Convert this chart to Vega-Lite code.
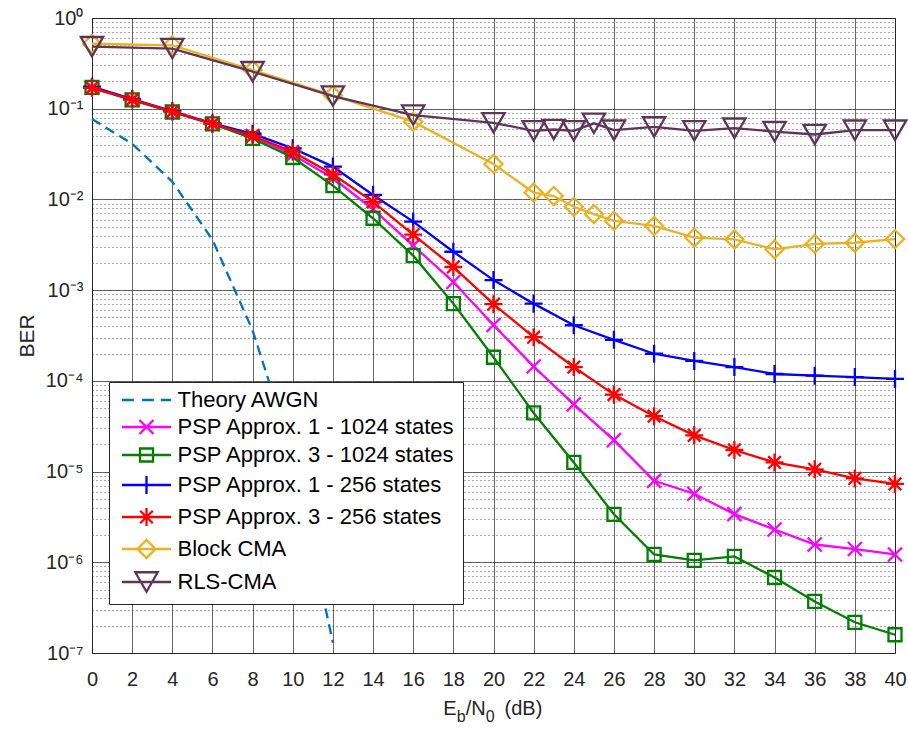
{
  "$schema": "https://vega.github.io/schema/vega-lite/v6.json",
  "width": 803,
  "height": 635,
  "autosize": {"type": "none"},
  "padding": {"left": 92, "top": 18, "right": 13, "bottom": 76},
  "background": "white",
  "config": {
    "view": {"stroke": "#262626", "strokeWidth": 1},
    "axis": {"ticks": false, "domain": false}
  },
  "data": {"values": [
    {"series": "Theory AWGN", "snr": 0, "ber": 0.077},
    {"series": "Theory AWGN", "snr": 2, "ber": 0.041},
    {"series": "Theory AWGN", "snr": 4, "ber": 0.0157},
    {"series": "Theory AWGN", "snr": 6, "ber": 0.0036},
    {"series": "Theory AWGN", "snr": 8, "ber": 0.00036},
    {"series": "Theory AWGN", "snr": 10, "ber": 1.5e-5},
    {"series": "Theory AWGN", "snr": 12, "ber": 1.3e-7},
    {"series": "PSP Approx. 1 - 1024 states", "snr": 0, "ber": 0.170},
    {"series": "PSP Approx. 1 - 1024 states", "snr": 2, "ber": 0.125},
    {"series": "PSP Approx. 1 - 1024 states", "snr": 4, "ber": 0.092},
    {"series": "PSP Approx. 1 - 1024 states", "snr": 6, "ber": 0.068},
    {"series": "PSP Approx. 1 - 1024 states", "snr": 8, "ber": 0.050},
    {"series": "PSP Approx. 1 - 1024 states", "snr": 10, "ber": 0.031},
    {"series": "PSP Approx. 1 - 1024 states", "snr": 12, "ber": 0.0172},
    {"series": "PSP Approx. 1 - 1024 states", "snr": 14, "ber": 0.0078},
    {"series": "PSP Approx. 1 - 1024 states", "snr": 16, "ber": 0.0031},
    {"series": "PSP Approx. 1 - 1024 states", "snr": 18, "ber": 0.00123},
    {"series": "PSP Approx. 1 - 1024 states", "snr": 20, "ber": 0.000413},
    {"series": "PSP Approx. 1 - 1024 states", "snr": 22, "ber": 0.000144},
    {"series": "PSP Approx. 1 - 1024 states", "snr": 24, "ber": 5.5e-5},
    {"series": "PSP Approx. 1 - 1024 states", "snr": 26, "ber": 2.22e-5},
    {"series": "PSP Approx. 1 - 1024 states", "snr": 28, "ber": 7.9e-6},
    {"series": "PSP Approx. 1 - 1024 states", "snr": 30, "ber": 5.7e-6},
    {"series": "PSP Approx. 1 - 1024 states", "snr": 32, "ber": 3.4e-6},
    {"series": "PSP Approx. 1 - 1024 states", "snr": 34, "ber": 2.3e-6},
    {"series": "PSP Approx. 1 - 1024 states", "snr": 36, "ber": 1.57e-6},
    {"series": "PSP Approx. 1 - 1024 states", "snr": 38, "ber": 1.40e-6},
    {"series": "PSP Approx. 1 - 1024 states", "snr": 40, "ber": 1.22e-6},
    {"series": "PSP Approx. 3 - 1024 states", "snr": 0, "ber": 0.172},
    {"series": "PSP Approx. 3 - 1024 states", "snr": 2, "ber": 0.125},
    {"series": "PSP Approx. 3 - 1024 states", "snr": 4, "ber": 0.092},
    {"series": "PSP Approx. 3 - 1024 states", "snr": 6, "ber": 0.068},
    {"series": "PSP Approx. 3 - 1024 states", "snr": 8, "ber": 0.047},
    {"series": "PSP Approx. 3 - 1024 states", "snr": 10, "ber": 0.029},
    {"series": "PSP Approx. 3 - 1024 states", "snr": 12, "ber": 0.0142},
    {"series": "PSP Approx. 3 - 1024 states", "snr": 14, "ber": 0.0062},
    {"series": "PSP Approx. 3 - 1024 states", "snr": 16, "ber": 0.0024},
    {"series": "PSP Approx. 3 - 1024 states", "snr": 18, "ber": 0.00071},
    {"series": "PSP Approx. 3 - 1024 states", "snr": 20, "ber": 0.000182},
    {"series": "PSP Approx. 3 - 1024 states", "snr": 22, "ber": 4.43e-5},
    {"series": "PSP Approx. 3 - 1024 states", "snr": 24, "ber": 1.26e-5},
    {"series": "PSP Approx. 3 - 1024 states", "snr": 26, "ber": 3.38e-6},
    {"series": "PSP Approx. 3 - 1024 states", "snr": 28, "ber": 1.22e-6},
    {"series": "PSP Approx. 3 - 1024 states", "snr": 30, "ber": 1.05e-6},
    {"series": "PSP Approx. 3 - 1024 states", "snr": 32, "ber": 1.16e-6},
    {"series": "PSP Approx. 3 - 1024 states", "snr": 34, "ber": 6.8e-7},
    {"series": "PSP Approx. 3 - 1024 states", "snr": 36, "ber": 3.7e-7},
    {"series": "PSP Approx. 3 - 1024 states", "snr": 38, "ber": 2.18e-7},
    {"series": "PSP Approx. 3 - 1024 states", "snr": 40, "ber": 1.59e-7},
    {"series": "PSP Approx. 1 - 256 states", "snr": 0, "ber": 0.175},
    {"series": "PSP Approx. 1 - 256 states", "snr": 2, "ber": 0.128},
    {"series": "PSP Approx. 1 - 256 states", "snr": 4, "ber": 0.094},
    {"series": "PSP Approx. 1 - 256 states", "snr": 6, "ber": 0.069},
    {"series": "PSP Approx. 1 - 256 states", "snr": 8, "ber": 0.053},
    {"series": "PSP Approx. 1 - 256 states", "snr": 10, "ber": 0.0366},
    {"series": "PSP Approx. 1 - 256 states", "snr": 12, "ber": 0.0230},
    {"series": "PSP Approx. 1 - 256 states", "snr": 14, "ber": 0.0112},
    {"series": "PSP Approx. 1 - 256 states", "snr": 16, "ber": 0.0057},
    {"series": "PSP Approx. 1 - 256 states", "snr": 18, "ber": 0.00265},
    {"series": "PSP Approx. 1 - 256 states", "snr": 20, "ber": 0.00129},
    {"series": "PSP Approx. 1 - 256 states", "snr": 22, "ber": 0.00071},
    {"series": "PSP Approx. 1 - 256 states", "snr": 24, "ber": 0.00041},
    {"series": "PSP Approx. 1 - 256 states", "snr": 26, "ber": 0.000283},
    {"series": "PSP Approx. 1 - 256 states", "snr": 28, "ber": 0.000199},
    {"series": "PSP Approx. 1 - 256 states", "snr": 30, "ber": 0.000166},
    {"series": "PSP Approx. 1 - 256 states", "snr": 32, "ber": 0.000142},
    {"series": "PSP Approx. 1 - 256 states", "snr": 34, "ber": 0.000119},
    {"series": "PSP Approx. 1 - 256 states", "snr": 36, "ber": 0.000114},
    {"series": "PSP Approx. 1 - 256 states", "snr": 38, "ber": 0.000110},
    {"series": "PSP Approx. 1 - 256 states", "snr": 40, "ber": 0.000105},
    {"series": "PSP Approx. 3 - 256 states", "snr": 0, "ber": 0.170},
    {"series": "PSP Approx. 3 - 256 states", "snr": 2, "ber": 0.126},
    {"series": "PSP Approx. 3 - 256 states", "snr": 4, "ber": 0.093},
    {"series": "PSP Approx. 3 - 256 states", "snr": 6, "ber": 0.068},
    {"series": "PSP Approx. 3 - 256 states", "snr": 8, "ber": 0.050},
    {"series": "PSP Approx. 3 - 256 states", "snr": 10, "ber": 0.0336},
    {"series": "PSP Approx. 3 - 256 states", "snr": 12, "ber": 0.0189},
    {"series": "PSP Approx. 3 - 256 states", "snr": 14, "ber": 0.0094},
    {"series": "PSP Approx. 3 - 256 states", "snr": 16, "ber": 0.0041},
    {"series": "PSP Approx. 3 - 256 states", "snr": 18, "ber": 0.0018},
    {"series": "PSP Approx. 3 - 256 states", "snr": 20, "ber": 0.00070},
    {"series": "PSP Approx. 3 - 256 states", "snr": 22, "ber": 0.000303},
    {"series": "PSP Approx. 3 - 256 states", "snr": 24, "ber": 0.000142},
    {"series": "PSP Approx. 3 - 256 states", "snr": 26, "ber": 7.05e-5},
    {"series": "PSP Approx. 3 - 256 states", "snr": 28, "ber": 4.08e-5},
    {"series": "PSP Approx. 3 - 256 states", "snr": 30, "ber": 2.51e-5},
    {"series": "PSP Approx. 3 - 256 states", "snr": 32, "ber": 1.73e-5},
    {"series": "PSP Approx. 3 - 256 states", "snr": 34, "ber": 1.26e-5},
    {"series": "PSP Approx. 3 - 256 states", "snr": 36, "ber": 1.06e-5},
    {"series": "PSP Approx. 3 - 256 states", "snr": 38, "ber": 8.4e-6},
    {"series": "PSP Approx. 3 - 256 states", "snr": 40, "ber": 7.3e-6},
    {"series": "Block CMA", "snr": 0, "ber": 0.52},
    {"series": "Block CMA", "snr": 4, "ber": 0.50},
    {"series": "Block CMA", "snr": 8, "ber": 0.267},
    {"series": "Block CMA", "snr": 12, "ber": 0.140},
    {"series": "Block CMA", "snr": 16, "ber": 0.072},
    {"series": "Block CMA", "snr": 20, "ber": 0.0246},
    {"series": "Block CMA", "snr": 22, "ber": 0.0119},
    {"series": "Block CMA", "snr": 23, "ber": 0.0109},
    {"series": "Block CMA", "snr": 24, "ber": 0.0083},
    {"series": "Block CMA", "snr": 25, "ber": 0.0069},
    {"series": "Block CMA", "snr": 26, "ber": 0.0058},
    {"series": "Block CMA", "snr": 28, "ber": 0.0051},
    {"series": "Block CMA", "snr": 30, "ber": 0.0038},
    {"series": "Block CMA", "snr": 32, "ber": 0.00363},
    {"series": "Block CMA", "snr": 34, "ber": 0.00282},
    {"series": "Block CMA", "snr": 36, "ber": 0.00323},
    {"series": "Block CMA", "snr": 38, "ber": 0.00333},
    {"series": "Block CMA", "snr": 40, "ber": 0.00366},
    {"series": "RLS-CMA", "snr": 0, "ber": 0.483},
    {"series": "RLS-CMA", "snr": 4, "ber": 0.46},
    {"series": "RLS-CMA", "snr": 8, "ber": 0.256},
    {"series": "RLS-CMA", "snr": 12, "ber": 0.138},
    {"series": "RLS-CMA", "snr": 16, "ber": 0.085},
    {"series": "RLS-CMA", "snr": 20, "ber": 0.070},
    {"series": "RLS-CMA", "snr": 22, "ber": 0.057},
    {"series": "RLS-CMA", "snr": 23, "ber": 0.059},
    {"series": "RLS-CMA", "snr": 24, "ber": 0.057},
    {"series": "RLS-CMA", "snr": 25, "ber": 0.069},
    {"series": "RLS-CMA", "snr": 26, "ber": 0.058},
    {"series": "RLS-CMA", "snr": 28, "ber": 0.063},
    {"series": "RLS-CMA", "snr": 30, "ber": 0.057},
    {"series": "RLS-CMA", "snr": 32, "ber": 0.061},
    {"series": "RLS-CMA", "snr": 34, "ber": 0.056},
    {"series": "RLS-CMA", "snr": 36, "ber": 0.052},
    {"series": "RLS-CMA", "snr": 38, "ber": 0.058},
    {"series": "RLS-CMA", "snr": 40, "ber": 0.058}
  ]},
  "encoding": {
    "x": {
      "field": "snr", "type": "quantitative",
      "scale": {"domain": [0, 40], "nice": false, "zero": false},
      "axis": {
        "values": [0, 2, 4, 6, 8, 10, 12, 14, 16, 18, 20, 22, 24, 26, 28, 30, 32, 34, 36, 38, 40],
        "title": null,
        "grid": true, "gridColor": "#262626", "gridOpacity": 0.7, "gridWidth": 1,
        "labelFont": "Liberation Sans", "labelFontSize": 20, "labelColor": "#262626",
        "labelPadding": 16, "labelFlush": false, "labelOverlap": false
      }
    },
    "y": {
      "field": "ber", "type": "quantitative",
      "scale": {"type": "log", "domain": [1e-7, 1], "nice": false},
      "axis": {
        "values": [1e-7, 2e-7, 3e-7, 4e-7, 5e-7, 6e-7, 7e-7, 8e-7, 9e-7,
                   1e-6, 2e-6, 3e-6, 4e-6, 5e-6, 6e-6, 7e-6, 8e-6, 9e-6,
                   1e-5, 2e-5, 3e-5, 4e-5, 5e-5, 6e-5, 7e-5, 8e-5, 9e-5,
                   1e-4, 2e-4, 3e-4, 4e-4, 5e-4, 6e-4, 7e-4, 8e-4, 9e-4,
                   1e-3, 2e-3, 3e-3, 4e-3, 5e-3, 6e-3, 7e-3, 8e-3, 9e-3,
                   1e-2, 2e-2, 3e-2, 4e-2, 5e-2, 6e-2, 7e-2, 8e-2, 9e-2,
                   1e-1, 2e-1, 3e-1, 4e-1, 5e-1, 6e-1, 7e-1, 8e-1, 9e-1, 1],
        "labelExpr": "abs(log(datum.value)/LN10 - round(log(datum.value)/LN10)) < 1e-6 ? (round(log(datum.value)/LN10) == 0 ? '10⁰' : '10⁻' + ['⁰','¹','²','³','⁴','⁵','⁶','⁷'][-round(log(datum.value)/LN10)]) : ''",
        "labelOverlap": false, "labelBound": false, "labelFlush": false,
        "labelFont": "Liberation Sans", "labelFontSize": 20, "labelColor": "#262626", "labelPadding": 9,
        "grid": true, "gridColor": "#262626", "gridWidth": 1, "gridOpacity": 0.75,
        "gridDash": {"condition": {"test": "abs(log(datum.value)/LN10 - round(log(datum.value)/LN10)) < 1e-6", "value": [10, 0]}, "value": [1, 3]},
        "title": "BER", "titleFont": "Liberation Sans", "titleFontSize": 21, "titleFontWeight": "normal",
        "titleColor": "#262626", "titlePadding": 8
      }
    }
  },
  "layer": [
    {
      "mark": {"type": "point", "filled": false, "opacity": 0},
      "encoding": {
        "color": {"field": "series", "type": "nominal",
          "scale": {"domain": ["Theory AWGN", "PSP Approx. 1 - 1024 states", "PSP Approx. 3 - 1024 states", "PSP Approx. 1 - 256 states", "PSP Approx. 3 - 256 states", "Block CMA", "RLS-CMA"],
                    "range": ["#0072BD", "#FF00FF", "#008000", "#0000FF", "#FF0000", "#EDB120", "#5E3559"]},
          "legend": {"orient": "none", "legendX": 17, "legendY": 364, "title": null,
            "labelFont": "Liberation Sans", "labelFontSize": 22, "labelColor": "#000000", "labelLimit": 500,
            "symbolSize": 196, "symbolStrokeWidth": 2.3, "symbolOpacity": 1, "symbolOffset": 19.5, "labelOffset": 20,
            "padding": 7, "rowPadding": 4, "strokeColor": "#262626", "fillColor": "#ffffff", "cornerRadius": 0}},
        "shape": {"field": "series", "type": "nominal",
          "scale": {"domain": ["Theory AWGN", "PSP Approx. 1 - 1024 states", "PSP Approx. 3 - 1024 states", "PSP Approx. 1 - 256 states", "PSP Approx. 3 - 256 states", "Block CMA", "RLS-CMA"],
                    "range": ["M-3.5,0L-1.8,0M-0.65,0L1.05,0M2.05,0L3.5,0",
                              "M-3.5,0L3.5,0M-1,-1L1,1M-1,1L1,-1",
                              "M-3.5,0L3.5,0M-0.93,-0.93L0.93,-0.93L0.93,0.93L-0.93,0.93Z",
                              "M-3.5,0L3.5,0M0,-1.29L0,1.29",
                              "M-3.5,0L3.5,0M0,-1.29L0,1.29M-0.9,-0.9L0.9,0.9M-0.9,0.9L0.9,-0.9",
                              "M-3.5,0L3.5,0M-1.29,0L0,-1.29L1.29,0L0,1.29Z",
                              "M-3.5,0L3.5,0M-1.6,-1.39L1.6,-1.39L0,1.39Z"]},
          "legend": {"orient": "none", "legendX": 17, "legendY": 364, "title": null,
            "labelFont": "Liberation Sans", "labelFontSize": 22, "labelColor": "#000000", "labelLimit": 500,
            "symbolSize": 196, "symbolStrokeWidth": 2.3, "symbolOpacity": 1, "symbolOffset": 19.5, "labelOffset": 20,
            "padding": 7, "rowPadding": 4, "strokeColor": "#262626", "fillColor": "#ffffff", "cornerRadius": 0}}
      }
    },
    {
      "transform": [{"filter": {"field": "series", "equal": "Theory AWGN"}}],
      "mark": {"type": "line", "strokeWidth": 2.3, "strokeDash": [10, 6]},
      "encoding": {"color": {"field": "series", "type": "nominal"}}
    },
    {
      "transform": [{"filter": {"field": "series", "equal": "PSP Approx. 1 - 1024 states"}}],
      "mark": {"type": "line", "strokeWidth": 2.3},
      "encoding": {"color": {"field": "series", "type": "nominal"}}
    },
    {
      "transform": [{"filter": {"field": "series", "equal": "PSP Approx. 1 - 1024 states"}}],
      "mark": {"type": "point", "shape": "M-1,-1L1,1M-1,1L1,-1", "filled": false, "size": 196, "strokeWidth": 2.3, "opacity": 1},
      "encoding": {"color": {"field": "series", "type": "nominal"}}
    },
    {
      "transform": [{"filter": {"field": "series", "equal": "PSP Approx. 3 - 1024 states"}}],
      "mark": {"type": "line", "strokeWidth": 2.3},
      "encoding": {"color": {"field": "series", "type": "nominal"}}
    },
    {
      "transform": [{"filter": {"field": "series", "equal": "PSP Approx. 3 - 1024 states"}}],
      "mark": {"type": "point", "shape": "square", "filled": false, "size": 169, "strokeWidth": 2.3, "opacity": 1},
      "encoding": {"color": {"field": "series", "type": "nominal"}}
    },
    {
      "transform": [{"filter": {"field": "series", "equal": "PSP Approx. 1 - 256 states"}}],
      "mark": {"type": "line", "strokeWidth": 2.3},
      "encoding": {"color": {"field": "series", "type": "nominal"}}
    },
    {
      "transform": [{"filter": {"field": "series", "equal": "PSP Approx. 1 - 256 states"}}],
      "mark": {"type": "point", "shape": "M-1,0L1,0M0,-1L0,1", "filled": false, "size": 324, "strokeWidth": 2.3, "opacity": 1},
      "encoding": {"color": {"field": "series", "type": "nominal"}}
    },
    {
      "transform": [{"filter": {"field": "series", "equal": "PSP Approx. 3 - 256 states"}}],
      "mark": {"type": "line", "strokeWidth": 2.3},
      "encoding": {"color": {"field": "series", "type": "nominal"}}
    },
    {
      "transform": [{"filter": {"field": "series", "equal": "PSP Approx. 3 - 256 states"}}],
      "mark": {"type": "point", "shape": "M-1,0L1,0M0,-1L0,1M-0.7,-0.7L0.7,0.7M-0.7,0.7L0.7,-0.7", "filled": false, "size": 324, "strokeWidth": 2.3, "opacity": 1},
      "encoding": {"color": {"field": "series", "type": "nominal"}}
    },
    {
      "transform": [{"filter": {"field": "series", "equal": "Block CMA"}}],
      "mark": {"type": "line", "strokeWidth": 2.3},
      "encoding": {"color": {"field": "series", "type": "nominal"}}
    },
    {
      "transform": [{"filter": {"field": "series", "equal": "Block CMA"}}],
      "mark": {"type": "point", "shape": "diamond", "filled": false, "size": 324, "strokeWidth": 2.3, "opacity": 1},
      "encoding": {"color": {"field": "series", "type": "nominal"}}
    },
    {
      "transform": [{"filter": {"field": "series", "equal": "RLS-CMA"}}],
      "mark": {"type": "line", "strokeWidth": 2.3},
      "encoding": {"color": {"field": "series", "type": "nominal"}}
    },
    {
      "transform": [{"filter": {"field": "series", "equal": "RLS-CMA"}}],
      "mark": {"type": "point", "shape": "triangle-down", "filled": false, "size": 500, "strokeWidth": 2.3, "opacity": 1},
      "encoding": {"color": {"field": "series", "type": "nominal"}}
    },
    {
      "transform": [{"filter": "datum.series === 'Theory AWGN' && datum.snr === 0"}],
      "mark": {"type": "text", "text": "E", "align": "left", "baseline": "alphabetic", "dy": 62, "font": "Liberation Sans", "fontSize": 20, "color": "#262626"},
      "encoding": {"x": {"datum": 17.5, "type": "quantitative"}, "y": {"datum": 1e-7, "type": "quantitative"}}
    },
    {
      "transform": [{"filter": "datum.series === 'Theory AWGN' && datum.snr === 0"}],
      "mark": {"type": "text", "text": "b", "align": "left", "baseline": "alphabetic", "dy": 69, "font": "Liberation Sans", "fontSize": 16, "color": "#262626"},
      "encoding": {"x": {"datum": 18.17, "type": "quantitative"}, "y": {"datum": 1e-7, "type": "quantitative"}}
    },
    {
      "transform": [{"filter": "datum.series === 'Theory AWGN' && datum.snr === 0"}],
      "mark": {"type": "text", "text": "/N", "align": "left", "baseline": "alphabetic", "dy": 62, "font": "Liberation Sans", "fontSize": 20, "color": "#262626"},
      "encoding": {"x": {"datum": 18.62, "type": "quantitative"}, "y": {"datum": 1e-7, "type": "quantitative"}}
    },
    {
      "transform": [{"filter": "datum.series === 'Theory AWGN' && datum.snr === 0"}],
      "mark": {"type": "text", "text": "0", "align": "left", "baseline": "alphabetic", "dy": 69, "font": "Liberation Sans", "fontSize": 16, "color": "#262626"},
      "encoding": {"x": {"datum": 19.62, "type": "quantitative"}, "y": {"datum": 1e-7, "type": "quantitative"}}
    },
    {
      "transform": [{"filter": "datum.series === 'Theory AWGN' && datum.snr === 0"}],
      "mark": {"type": "text", "text": "(dB)", "align": "left", "baseline": "alphabetic", "dy": 62, "font": "Liberation Sans", "fontSize": 20, "color": "#262626"},
      "encoding": {"x": {"datum": 20.55, "type": "quantitative"}, "y": {"datum": 1e-7, "type": "quantitative"}}
    }
  ]
}
